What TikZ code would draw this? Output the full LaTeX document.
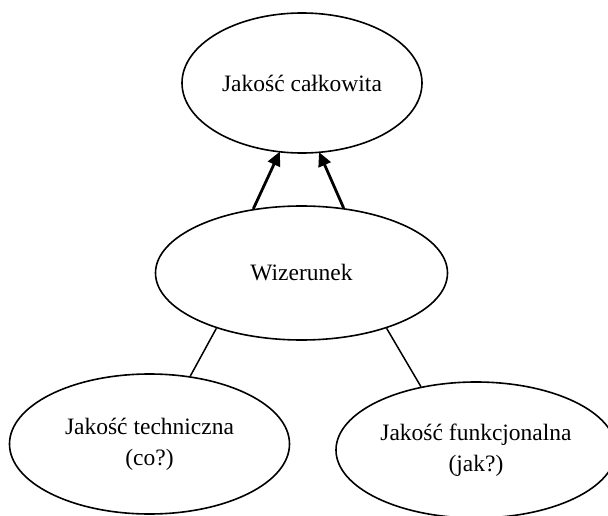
\documentclass[tikz,border=0pt]{standalone}
\usepackage{fontspec}
\setmainfont{Liberation Serif}
\usetikzlibrary{shapes.geometric,arrows.meta}
\tikzset{
  oval/.style={draw, ellipse, line width=1.6pt, inner sep=0pt, align=center,
    font=\fontsize{23.5}{31}\selectfont},
  uparrow/.style={line width=2.8pt, -{Triangle[length=14pt,width=13pt]}, shorten >=-1pt},
  link/.style={line width=1.5pt}
}
\begin{document}
\begin{tikzpicture}[x=1pt,y=-1pt]
\clip (0,0) rectangle (608,516);
\node[oval, minimum width=240pt, minimum height=140pt] (total) at (302,83) {Jakość całkowita};
\node[oval, minimum width=292pt, minimum height=134pt] (image) at (301.5,273) {Wizerunek};
\node[oval, minimum width=280pt, minimum height=140pt] (tech) at (149.5,444) {Jakość techniczna\\(co?)};
\node[oval, minimum width=280pt, minimum height=136pt] (func) at (476,450) {Jakość funkcjonalna\\(jak?)};
\draw[uparrow] (image.127.2) -- (total.252.3);
\draw[uparrow] (image.57.4) -- (total.-76.9);
\draw[link] (image.213.4) -- (tech.59.2);
\draw[link] (image.-33.8) -- (func.131.2);
\end{tikzpicture}
\end{document}
